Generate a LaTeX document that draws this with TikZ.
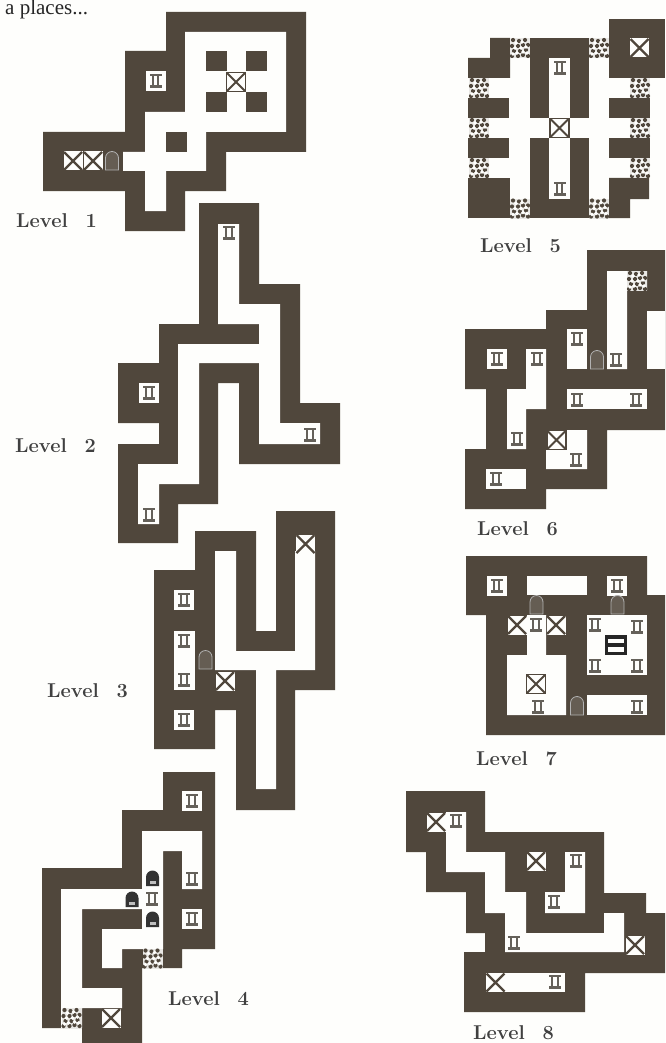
\documentclass[tikz,border=0pt]{standalone}
\usepackage{fontspec}
\newfontfamily\bookfont{Liberation Serif}
\usetikzlibrary{positioning}
\definecolor{wallbrown}{HTML}{50473C}
\definecolor{pagewhite}{HTML}{FEFEFC}
\definecolor{inkgray}{HTML}{65615A}
\tikzset{
  wall/.style={fill=wallbrown,draw=none},
  floorway/.style={fill=pagewhite,draw=none},
  levellabel/.style={font=\fontsize{20}{20}\selectfont\bfseries,text=black!75,inner sep=0pt,anchor=base west},
  pics/pillarmark/.style={code={
    \fill[inkgray] (-6,-7) rectangle (6,-4.8);
    \fill[inkgray] (-3.8,-4.8) rectangle (-1.8,4);
    \fill[inkgray] (1.8,-4.8) rectangle (3.8,4);
    \fill[inkgray] (-6,4) rectangle (6,7);
  }},
  pics/pillartile/.style={code={
    \fill[pagewhite] (-10,-10) rectangle (10,10);
    \pic at (0,0) {pillarmark};
  }},
  pics/xtile/.style={code={
    \fill[pagewhite] (-9.5,-9.5) rectangle (9.5,9.5);
    \draw[wallbrown,line width=2.4pt] (-9,-9) -- (9,9) (-9,9) -- (9,-9);
  }},
  pics/xframe/.style={code={
    \draw[wallbrown,line width=1.6pt,fill=pagewhite] (-9.5,-9.5) rectangle (9.5,9.5);
    \draw[wallbrown,line width=1.8pt] (-9,-9) -- (9,9) (-9,9) -- (9,-9);
  }},
  pics/doorarch/.style={code={
    \draw[black!30,line width=0.8pt,fill=wallbrown!88!white] (-6.5,9) -- (-6.5,-3) arc[start angle=180,end angle=360,radius=6.5] -- (6.5,9) -- cycle;
  }},
  pics/doorblack/.style={code={
    \fill[black!80] (-6.5,7) -- (-6.5,-2) arc[start angle=180,end angle=360,radius=6.5] -- (6.5,7) -- cycle;
    \fill[black!25] (-3,2) rectangle (3,5);
  }},
  pics/rubbletile/.style={code={
    \fill[pagewhite!88!wallbrown] (-10,-10) rectangle (10,10);
    \foreach \i/\j in {-7/-8,-1/-7,5/-8,-8/-2,-2/-2,3/-3,8/-3,-6/3,0/3,6/2,-8/8,-2/8,3/7,8/8}{
      \fill[wallbrown] (\i,\j) circle (2.1);
    }
    \foreach \i/\j in {-4/-5,2/-6,-5/0,1/0,6/-1,-3/5,3/4,-7/6,7/5}{
      \fill[pagewhite] (\i,\j) circle (1.8);
    }
  }},
  pics/stairtile/.style={code={
    \fill[black!85] (-11,-10) rectangle (11,10);
    \fill[pagewhite] (-8,-6.5) rectangle (8,-2);
    \fill[pagewhite] (-8,2) rectangle (8,6.5);
  }}
}
\begin{document}
\begin{tikzpicture}[x=1pt,y=-1pt]
  \useasboundingbox (0,0) rectangle (665,1043);
  \clip (0,0) rectangle (665,1043);
  \fill[pagewhite] (0,0) rectangle (665,1043);
  \node[font=\bookfont\fontsize{21}{21}\selectfont,text=black!85,inner sep=0pt,anchor=base west] (intro) at (5,14.5) {a places...};

  % level 1
  \fill[wall] (166,12) -- (306,12) -- (306,152) -- (226,152) -- (226,191) -- (185,191) -- (185,231) -- (125,231) -- (125,191) -- (43,191) -- (43,132) -- (125,132) -- (125,51) -- (166,51) -- cycle;
  \fill[floorway] (185,32) -- (286,32) -- (286,132) -- (206,132) -- (206,171) -- (166,171) -- (166,211) -- (145,211) -- (145,171) -- (123,171) -- (123,152) -- (145,152) -- (145,112) -- (185,112) -- cycle;
  \foreach \x/\y in {206/51,246/51,206/92,246/92,166/132}{
    \fill[wall] (\x,\y) rectangle ++(20.5,20.5);
  }
  \pic at (236,82) {xframe};
  \pic at (155.5,81) {pillartile};
  \pic at (73,161) {xtile};
  \pic at (93,161) {xtile};
  \pic at (112,161) {doorarch};
  \node[levellabel] (lvlone) at (16,227) {Level\hspace{0.9em}\oldstylenums{1}};

  % level 2
  \fill[wall] (199,203) -- (259,203) -- (259,284) -- (300,284) -- (300,403) -- (340,403) -- (340,464) -- (239,464) -- (239,383) -- (218,383) -- (218,504) -- (178,504) -- (178,543) -- (118,543) -- (118,444) -- (159,444) -- (159,423) -- (118,423) -- (118,363) -- (159,363) -- (159,324) -- (199,324) -- cycle;
  \fill[floorway] (218,224) -- (239,224) -- (239,304) -- (280,304) -- (280,423) -- (320,423) -- (320,444) -- (259,444) -- (259,363) -- (199,363) -- (199,484) -- (159,484) -- (159,524) -- (138,524) -- (138,464) -- (178,464) -- (178,344) -- (259,344) -- (259,324) -- (218,324) -- cycle;
  \pic at (149,393) {pillartile};
  \foreach \x/\y in {229/233,310/435,149/515}{
    \pic at (\x,\y) {pillarmark};
  }
  \node[levellabel] (lvltwo) at (15,452) {Level\hspace{0.9em}\oldstylenums{2}};

  % level 3
  \fill[wall] (276,511) -- (335,511) -- (335,690) -- (295,690) -- (295,810) -- (236,810) -- (236,710) -- (215,710) -- (215,749) -- (154,749) -- (154,570) -- (195,570) -- (195,531) -- (256,531) -- (256,631) -- (276,631) -- cycle;
  \fill[floorway] (295,551) -- (315,551) -- (315,670) -- (276,670) -- (276,789) -- (256,789) -- (256,670) -- (215,670) -- (215,551) -- (236,551) -- (236,651) -- (295,651) -- cycle;
  \fill[floorway] (174,631) rectangle (195,690);
  \pic at (305.5,544) {xtile};
  \pic at (225,681) {xtile};
  \pic at (184,600) {pillartile};
  \pic at (184,720) {pillartile};
  \pic at (184,641) {pillarmark};
  \pic at (184,680) {pillarmark};
  \pic at (205.5,660) {doorarch};
  \node[levellabel] (lvlthree) at (47,697) {Level\hspace{0.9em}\oldstylenums{3}};

  % level 4
  \fill[wall] (163,772) -- (215,772) -- (215,949) -- (182,949) -- (182,968) -- (142,968) -- (142,1043) -- (82,1043) -- (82,1028) -- (42,1028) -- (42,868) -- (122,868) -- (122,810) -- (163,810) -- cycle;
  \fill[floorway] (142,831) -- (202,831) -- (202,889) -- (182,889) -- (182,851) -- (163,851) -- (163,949) -- (122,949) -- (122,968) -- (102,968) -- (102,929) -- (142,929) -- (142,909) -- (82,909) -- (82,988) -- (122,988) -- (122,1008) -- (82,1008) -- (82,1028) -- (61,1028) -- (61,889) -- (142,889) -- cycle;
  \pic at (192,801) {pillartile};
  \pic at (192,919) {pillartile};
  \pic at (192,879) {pillarmark};
  \pic at (152,899) {pillarmark};
  \foreach \x/\y in {152.5/879,132/900,152.5/920}{
    \pic at (\x,\y) {doorblack};
  }
  \pic at (152.5,958.5) {rubbletile};
  \pic at (71.5,1018) {rubbletile};
  \pic at (111,1018) {xtile};
  \node[levellabel] (lvlfour) at (168,1005) {Level\hspace{0.9em}\oldstylenums{4}};

  % level 5
  \fill[wall] (490,38) -- (510,38) -- (510,78) -- (468,78) -- (468,58) -- (490,58) -- cycle;
  \fill[wall] (530,38) rectangle (589,118);
  \fill[wall] (530,138) rectangle (589,218);
  \fill[wall] (609,19) rectangle (665,78);
  \fill[wall] (468,178) rectangle (510,218);
  \fill[wall] (609,178) -- (649,178) -- (649,199) -- (630,199) -- (630,218) -- (609,218) -- cycle;
  \foreach \x/\y in {468/98,468/138,609/98,609/138}{
    \fill[wall] (\x,\y) rectangle ++(41,20);
  }
  \fill[floorway] (549,58) rectangle (570,118);
  \fill[floorway] (549,138) rectangle (570,199);
  \foreach \x/\y in {520/48,599/48,479/88,479/128,479/168,520/208.5,599/208.5,640/88,640/128,640/168}{
    \pic at (\x,\y) {rubbletile};
  }
  \pic at (639.5,48) {xtile};
  \pic at (559.5,128) {xframe};
  \pic at (559.5,68) {pillarmark};
  \pic at (559.5,189) {pillarmark};
  \node[levellabel] (lvlfive) at (480,252) {Level\hspace{0.9em}\oldstylenums{5}};

  % level 6
  \fill[wall] (587,250) -- (665,250) -- (665,430) -- (607,430) -- (607,489) -- (546,489) -- (546,509) -- (465,509) -- (465,449) -- (486,449) -- (486,389) -- (465,389) -- (465,329) -- (546,329) -- (546,310) -- (587,310) -- cycle;
  \fill[floorway] (526,349) -- (546,349) -- (546,409) -- (526,409) -- (526,449) -- (507,449) -- (507,389) -- (526,389) -- cycle;
  \fill[floorway] (567,329) rectangle (587,369);
  \fill[floorway] (607,271) -- (647,271) -- (647,290) -- (627,290) -- (627,369) -- (607,369) -- cycle;
  \fill[floorway] (647,311) rectangle (665,369);
  \fill[floorway] (567,389) rectangle (647,409);
  \fill[floorway] (567,430) -- (587,430) -- (587,469) -- (546,469) -- (546,449) -- (567,449) -- cycle;
  \fill[floorway] (486,469) rectangle (526,489);
  \pic at (496.5,359) {pillartile};
  \pic at (637,281) {rubbletile};
  \pic at (556.5,440) {xframe};
  \foreach \x/\y in {537/359,517/439,577/339,616/360,577/400,636/400,576/460,496/479}{
    \pic at (\x,\y) {pillarmark};
  }
  \pic at (597,360) {doorarch};
  \node[levellabel] (lvlsix) at (477,535) {Level\hspace{0.9em}\oldstylenums{6}};

  % level 7
  \fill[wall] (466,556) -- (647,556) -- (647,595) -- (665,595) -- (665,735) -- (486,735) -- (486,615) -- (466,615) -- cycle;
  \fill[floorway] (527,576) rectangle (587,595);
  \fill[floorway] (527,615) -- (546,615) -- (546,655) -- (566,655) -- (566,715) -- (507,715) -- (507,655) -- (527,655) -- cycle;
  \fill[floorway] (587,615) rectangle (647,675);
  \fill[floorway] (587,695) rectangle (647,715);
  \pic at (496.5,586) {pillartile};
  \pic at (617,586) {pillartile};
  \pic at (517,625) {xtile};
  \pic at (556,625) {xtile};
  \pic at (536,684) {xframe};
  \pic at (615.5,645) {stairtile};
  \foreach \x/\y in {536/625,595/625,637/627,595/666,637/666,538/707,637/707}{
    \pic at (\x,\y) {pillarmark};
  }
  \foreach \x/\y in {536.5/605,617.5/605,577/706}{
    \pic at (\x,\y) {doorarch};
  }
  \node[levellabel] (lvlseven) at (476,765) {Level\hspace{0.9em}\oldstylenums{7}};

  % level 8
  \fill[wall] (406,791) -- (485,791) -- (485,832) -- (604,832) -- (604,893) -- (646,893) -- (646,913) -- (665,913) -- (665,973) -- (585,973) -- (585,1012) -- (464,1012) -- (464,952) -- (485,952) -- (485,933) -- (466,933) -- (466,892) -- (426,892) -- (426,852) -- (406,852) -- cycle;
  \fill[floorway] (446,812) -- (466,812) -- (466,852) -- (505,852) -- (505,892) -- (526,892) -- (526,933) -- (604,933) -- (604,913) -- (624,913) -- (624,952) -- (505,952) -- (505,913) -- (485,913) -- (485,872) -- (446,872) -- cycle;
  \fill[floorway] (565,852) -- (585,852) -- (585,913) -- (545,913) -- (545,892) -- (565,892) -- cycle;
  \fill[floorway] (505,973) rectangle (565,992);
  \foreach \x/\y in {436/822,536/861,635/945,495.5/982.5}{
    \pic at (\x,\y) {xtile};
  }
  \foreach \x/\y in {456/821,576/861,554/902,514/943,555/982}{
    \pic at (\x,\y) {pillarmark};
  }
  \node[levellabel] (lvleight) at (473,1039) {Level\hspace{0.9em}\oldstylenums{8}};
\end{tikzpicture}
\end{document}
